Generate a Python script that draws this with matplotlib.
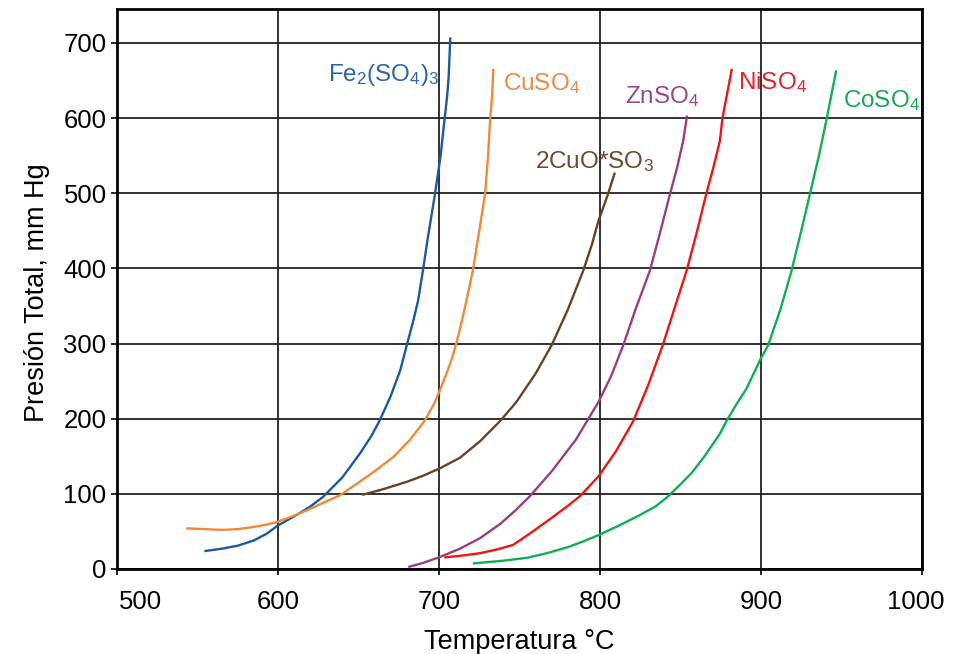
import matplotlib
matplotlib.use('Agg')
from matplotlib import pyplot as plt
from matplotlib.transforms import ScaledTranslation

plt.rcParams['font.family'] = ['Liberation Sans', 'DejaVu Sans']
plt.rcParams['mathtext.fontset'] = 'custom'
plt.rcParams['mathtext.rm'] = 'Liberation Sans'
plt.rcParams['mathtext.it'] = 'Liberation Sans'
plt.rcParams['mathtext.default'] = 'rm'

# curvas: temperatura (°C) y presion total (mm Hg)
fe_t = [555, 565, 575, 585, 593, 600, 610, 620, 628, 640, 651, 658, 663, 670,
        676, 680, 684, 687, 690, 693, 697.5, 701, 703, 705, 706, 707]
fe_p = [24, 27, 31, 38, 47, 58, 70, 83, 96, 122, 154, 177, 197, 230,
        265, 298, 330, 357, 397, 440, 499, 550, 590, 628, 655, 706]

cu_t = [543.7, 555, 565, 575, 585, 593, 600, 610, 620, 630, 638.5, 650, 660,
        671.6, 682, 691, 697, 700.6, 705, 708, 711, 714, 717, 721, 725, 728.6,
        730.5, 731.7, 733, 733.7]
cu_p = [54, 53, 52, 53, 56, 59, 63, 71, 80, 90, 98, 115, 130,
        149, 172, 197, 220, 238, 262, 280, 302, 328, 357, 397, 450, 499,
        550, 597, 630, 664]

cuo_t = [653, 665, 680, 690, 700.6, 713, 725.5, 738, 748, 760, 770, 780,
         789.6, 795, 799, 805, 809]
cuo_p = [99, 106, 116, 124, 134, 148, 170, 197, 222, 260, 298, 345,
         397, 432, 463, 499, 526]

zn_t = [681.6, 690, 700.6, 713, 725.5, 738, 747, 756.5, 770, 785, 799, 807,
        814.5, 822, 831, 837, 843.5, 848, 851.7, 854]
zn_p = [3, 8, 16, 27, 41, 60, 77, 97, 130, 172, 222, 257,
        298, 345, 397, 445, 499, 535, 570, 602]

ni_t = [704, 715, 725.5, 736, 746, 757, 770, 780, 787.6, 799, 810, 820.7,
        830, 839, 846, 853.8, 860, 866, 870.5, 874.5, 876, 878, 881.8]
ni_p = [15.5, 18, 21, 26, 32, 48, 68, 84, 97, 123, 157, 197,
        245, 298, 345, 397, 447, 499, 535, 570, 599, 622, 664]

co_t = [721.7, 740, 755, 767, 780, 790, 799, 812, 825, 835, 842.5, 849.7,
        857, 864.6, 874.5, 878.6, 885, 891, 899.4, 904.5, 912, 919, 925,
        930.4, 936, 940.8, 946.6]
co_p = [7.5, 11, 15, 21, 29, 37, 45, 58, 72, 84, 97, 112,
        128, 149, 180, 197, 220, 240, 278, 298, 345, 397, 450,
        499, 550, 599, 662]

labels = [r'Fe$_2$(SO$_4$)$_3$', r'CuSO$_4$', r'2CuO*SO$_3$',
          r'ZnSO$_4$', r'NiSO$_4$', r'CoSO$_4$']
label_t = [631, 739.7, 759.6, 815.5, 885.7, 951]
label_p = [649, 637, 533, 620, 638, 614]

line_colors = ['#1b5aa0', '#f0893a', '#6a4322', '#9a3f7c', '#f01414', '#0fb050']
text_colors = ['#2b66aa', '#ef8a45', '#6f4a2c', '#9a4a80', '#e8202a', '#19a85a']

fig = plt.figure(figsize=(9.64, 6.54), dpi=100)
ax = fig.add_axes([0.1214, 0.130, 0.835, 0.856])

series = [(fe_t, fe_p), (cu_t, cu_p), (cuo_t, cuo_p),
          (zn_t, zn_p), (ni_t, ni_p), (co_t, co_p)]
for (t, p), c in zip(series, line_colors):
    ax.plot(t, p, color=c, lw=1.7, solid_joinstyle='round', zorder=3)

for lab, t, p, c in zip(labels, label_t, label_p, text_colors):
    ax.text(t, p, lab, color=c, fontsize=17.5, ha='left', va='baseline',
            clip_on=False, zorder=4)

ax.set_xlim(500, 1000)
ax.set_ylim(0, 745)
ax.set_xticks([500, 600, 700, 800, 900, 1000])
ax.set_yticks([0, 100, 200, 300, 400, 500, 600, 700])
ax.grid(True, color='#222222', lw=1.3)
ax.set_axisbelow(True)
for s in ax.spines.values():
    s.set_linewidth(2.0)
    s.set_color('black')
ax.tick_params(axis='both', labelsize=18.5, length=4, width=1.2, direction='out')
ax.tick_params(axis='x', pad=11)
ax.tick_params(axis='y', pad=3.5)

# primera y ultima etiqueta del eje x desplazadas hacia dentro
xt = ax.get_xticklabels()
xt[0].set_transform(xt[0].get_transform() + ScaledTranslation(0.23, 0, fig.dpi_scale_trans))
xt[-1].set_transform(xt[-1].get_transform() + ScaledTranslation(-0.06, 0, fig.dpi_scale_trans))

ax.set_xlabel('Temperatura °C', fontsize=19.5)
ax.set_ylabel('Presión Total, mm Hg', fontsize=19.5)
ax.xaxis.set_label_coords(0.5, -0.108)
ax.yaxis.set_label_coords(-0.083, 0.493)

fig.savefig('out.png', dpi=100)
